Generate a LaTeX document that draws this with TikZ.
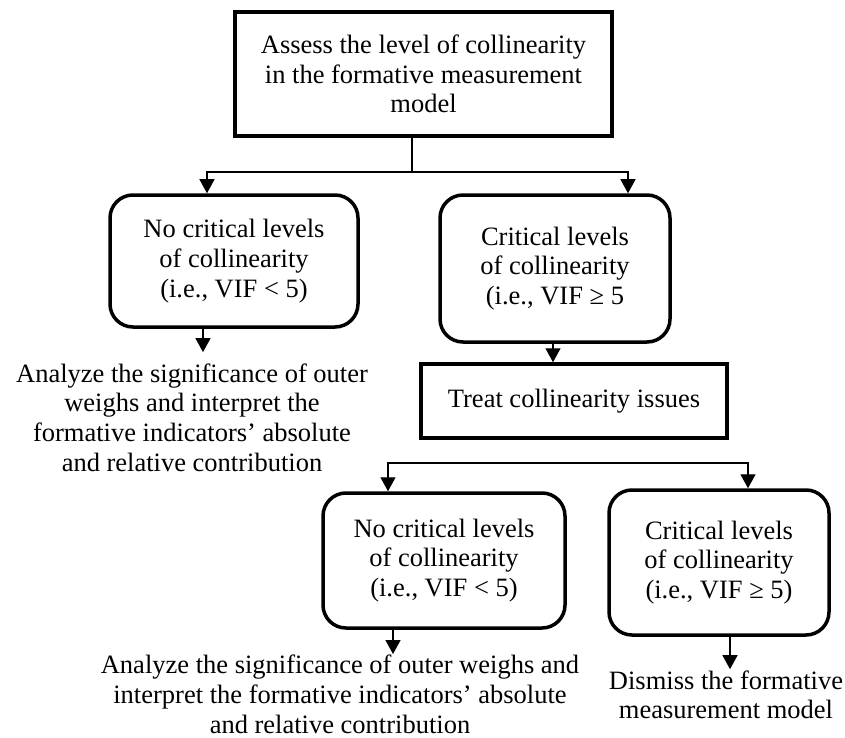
\documentclass[tikz,border=0pt]{standalone}
\usepackage{fontspec}
\setmainfont{Liberation Serif}
\usetikzlibrary{arrows.meta}

\begin{document}
\begin{tikzpicture}[x=1pt,y=-1pt,
    font=\fontsize{26.5}{29.8}\selectfont,
    box/.style={draw,line width=3.5pt,align=center,inner sep=0pt},
    rbox/.style={box,rounded corners=23pt},
    note/.style={align=center,inner sep=1pt},
    arr/.style={line width=1.3pt,-{Triangle[length=14pt,width=15pt]}}]
      \useasboundingbox (0,0) rectangle (845,738);
      \draw
        (423.5,74) node[box,minimum width=377pt,minimum height=124pt] (assess){Assess the level of collinearity\\in the formative measurement\\model}
        (234,261) node[rbox,minimum width=248pt,minimum height=132pt] (nocrit1){No critical levels\\of collinearity\\(i.e., VIF < 5)}
        (555,268.5) node[rbox,minimum width=230pt,minimum height=147pt] (crit1){Critical levels\\of collinearity\\(i.e., VIF ≥ 5}
        (192,417.5) node[note] (analyze1){Analyze the significance of outer\\weighs and interpret the\\formative indicators’ absolute\\and relative contribution}
        (574,401) node[box,minimum width=306pt,minimum height=74pt] (treat){Treat collinearity issues}
        (444,560.5) node[rbox,minimum width=242pt,minimum height=135pt] (nocrit2){No critical levels\\of collinearity\\(i.e., VIF < 5)}
        (719,562.5) node[rbox,minimum width=220pt,minimum height=145pt] (crit2){Critical levels\\of collinearity\\(i.e., VIF ≥ 5)}
        (340,694.5) node[note] (analyze2){Analyze the significance of outer weighs and\\interpret the formative indicators’ absolute\\and relative contribution}
        (726,694.75) node[note] (dismiss){Dismiss the formative\\measurement model};
      \coordinate (fork1) at (412,172);
      \coordinate (fork2) at (568,463);
      \draw[line width=1.3pt] (assess.south -| fork1) to (fork1);
      \begin{scope}[arr]
        \draw (fork1) -| ([xshift=-27pt]nocrit1.north);
        \draw (fork1) -| ([xshift=73pt]crit1.north);
        \draw[shorten >=10pt] ([xshift=-31pt]nocrit1.south) to ([xshift=-31pt]nocrit1.south |- analyze1.north);
        \draw ([xshift=-2pt]crit1.south) to ([xshift=-2pt]crit1.south |- treat.north);
        \draw (fork2) -| ([xshift=-56pt]nocrit2.north);
        \draw (fork2) -| ([xshift=29pt]crit2.north);
        \draw ([xshift=-51pt]nocrit2.south) to ([xshift=-51pt]nocrit2.south |- analyze2.north);
        \draw ([xshift=11pt]crit2.south) to ([xshift=11pt]crit2.south |- dismiss.north);
      \end{scope}
    \end{tikzpicture}
\end{document}
